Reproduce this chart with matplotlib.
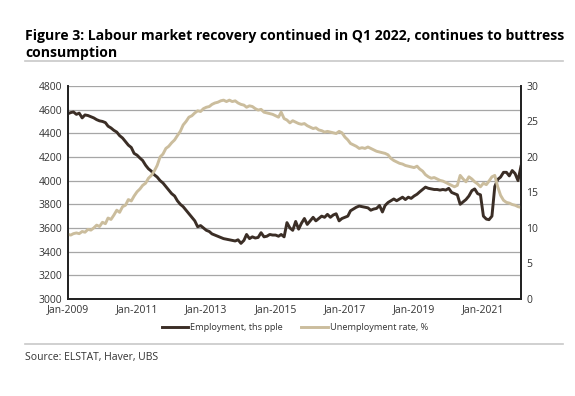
import pandas as pd
import matplotlib
matplotlib.use("Agg")
import matplotlib.pyplot as plt
import matplotlib.dates as mdates

plt.rcParams['font.family'] = ['Open Sans', 'DejaVu Sans']

# monthly data, Jan 2009 - Feb 2022
months = pd.date_range("2009-01-01", periods=158, freq="MS")

employment = [
    4565, 4575, 4580, 4560, 4570, 4530, 4555, 4550, 4540, 4530, 4515, 4505,  # 2009
    4500, 4490, 4460, 4445, 4425, 4410, 4380, 4360, 4330, 4300, 4280, 4230,  # 2010
    4215, 4190, 4170, 4130, 4100, 4080, 4050, 4030, 4000, 3980, 3950, 3920,  # 2011
    3890, 3870, 3830, 3800, 3780, 3750, 3720, 3690, 3660, 3610, 3620, 3600,  # 2012
    3580, 3570, 3550, 3540, 3530, 3520, 3510, 3505, 3500, 3495, 3490, 3500,  # 2013
    3470, 3495, 3545, 3510, 3525, 3515, 3520, 3560, 3525, 3530, 3545, 3540,  # 2014
    3540, 3530, 3545, 3525, 3645, 3600, 3580, 3655, 3590, 3640, 3680, 3630,  # 2015
    3660, 3690, 3660, 3680, 3700, 3690, 3715, 3690, 3710, 3720, 3660, 3680,  # 2016
    3690, 3700, 3745, 3760, 3775, 3785, 3780, 3775, 3770, 3750, 3760, 3765,  # 2017
    3790, 3735, 3790, 3815, 3830, 3845, 3830, 3845, 3860, 3840, 3860, 3850,  # 2018
    3870, 3885, 3905, 3925, 3945, 3935, 3930, 3925, 3925, 3920, 3925, 3920,  # 2019
    3935, 3900, 3890, 3880, 3800, 3820, 3840, 3870, 3915, 3930, 3890, 3880,  # 2020
    3700, 3675, 3670, 3700, 3950, 4010, 4030, 4070, 4070, 4040, 4085, 4060,  # 2021
    4000, 4120,                                                              # 2022
]

unemployment = [
    9.1, 9.0, 9.2, 9.3, 9.2, 9.5, 9.4, 9.8, 9.7, 10.0, 10.4, 10.2,
    10.8, 10.6, 11.4, 11.2, 11.8, 12.5, 12.2, 13.0, 13.2, 14.0, 13.8, 14.5,
    15.1, 15.5, 16.0, 16.3, 17.0, 17.4, 18.0, 18.8, 20.0, 20.4, 21.2, 21.5,
    22.0, 22.4, 23.0, 23.6, 24.5, 25.0, 25.6, 25.8, 26.2, 26.5, 26.4, 26.8,
    27.0, 27.1, 27.4, 27.6, 27.7, 27.9, 28.0, 27.8, 28.0, 27.8, 27.9, 27.6,
    27.4, 27.3, 27.0, 27.2, 27.1, 26.8, 26.6, 26.7, 26.3, 26.2, 26.1, 26.0,
    25.8, 25.6, 26.3, 25.4, 25.2, 24.8, 25.1, 24.9, 24.7, 24.6, 24.7, 24.4,
    24.2, 24.0, 24.1, 23.8, 23.7, 23.5, 23.6, 23.5, 23.4, 23.3, 23.6, 23.4,
    22.8, 22.4, 21.9, 21.7, 21.5, 21.2, 21.3, 21.2, 21.4, 21.2, 21.0, 20.8,
    20.7, 20.6, 20.5, 20.3, 19.8, 19.5, 19.3, 19.1, 19.0, 18.8, 18.7, 18.6,
    18.5, 18.7, 18.3, 18.0, 17.5, 17.2, 17.0, 17.1, 16.9, 16.7, 16.6, 16.4,
    16.2, 16.0, 15.8, 16.0, 17.4, 16.9, 16.5, 17.2, 16.9, 16.5, 16.2, 15.8,
    16.3, 16.1, 16.6, 17.2, 17.4, 15.8, 14.6, 13.9, 13.6, 13.5, 13.3, 13.2,
    13.0, 12.9,
]

tick_years = [2009, 2011, 2013, 2015, 2017, 2019, 2021]

dark = '#3b2e26'
beige = '#cbbd9d'
txt = '#333333'

fig = plt.figure(figsize=(5.75, 3.96), dpi=100)
ax = fig.add_axes([0.118, 0.245, 0.788, 0.538])
ax2 = ax.twinx()

l1, = ax.plot(months, employment, color=dark, lw=2.1, label='Employment, ths pple')
l2, = ax2.plot(months, unemployment, color=beige, lw=2.1, label='Unemployment rate, %')

ax.set_ylim(3000, 4800)
ax.set_yticks(range(3000, 4801, 200))
ax2.set_ylim(0, 30)
ax2.set_yticks(range(0, 31, 5))
ax.set_xlim(months[0], months[-1])
ax.set_xticks([pd.Timestamp(f"{y}-01-01") for y in tick_years])
ax.xaxis.set_major_formatter(mdates.DateFormatter('%b-%Y'))

ax.grid(axis='y', color='#a6a6a6', lw=0.9)
ax.set_axisbelow(True)
for a in (ax, ax2):
    a.tick_params(length=0, labelsize=7.5, colors=txt, pad=4)
    a.spines['top'].set_visible(False)
    for s in ('left', 'right', 'bottom'):
        a.spines[s].set_color('#222222')
        a.spines[s].set_linewidth(1.3)

# title, two lines
fig.text(0.044, 0.899, 'Figure 3: Labour market recovery continued in Q1 2022, continues to buttress',
         fontsize=10.1, fontweight='bold', va='baseline', ha='left', color='black')
fig.text(0.044, 0.857, 'consumption', fontsize=10.1, fontweight='bold', va='baseline', ha='left', color='black')
fig.add_artist(plt.Line2D([0.044, 0.979], [0.846, 0.846], color='#c8c8c8', lw=1.2))
fig.add_artist(plt.Line2D([0.044, 0.979], [0.131, 0.131], color='#c8c8c8', lw=1.2))
fig.text(0.044, 0.091, 'Source: ELSTAT, Haver, UBS', fontsize=7.5, color=txt, va='baseline')

fig.legend(handles=[l1, l2], loc='center', bbox_to_anchor=(0.513, 0.172), ncol=2, frameon=False,
           fontsize=6.6, handlelength=2.9, handletextpad=0.2, columnspacing=2.0, labelcolor=txt)

fig.savefig('out.png', dpi=100)
